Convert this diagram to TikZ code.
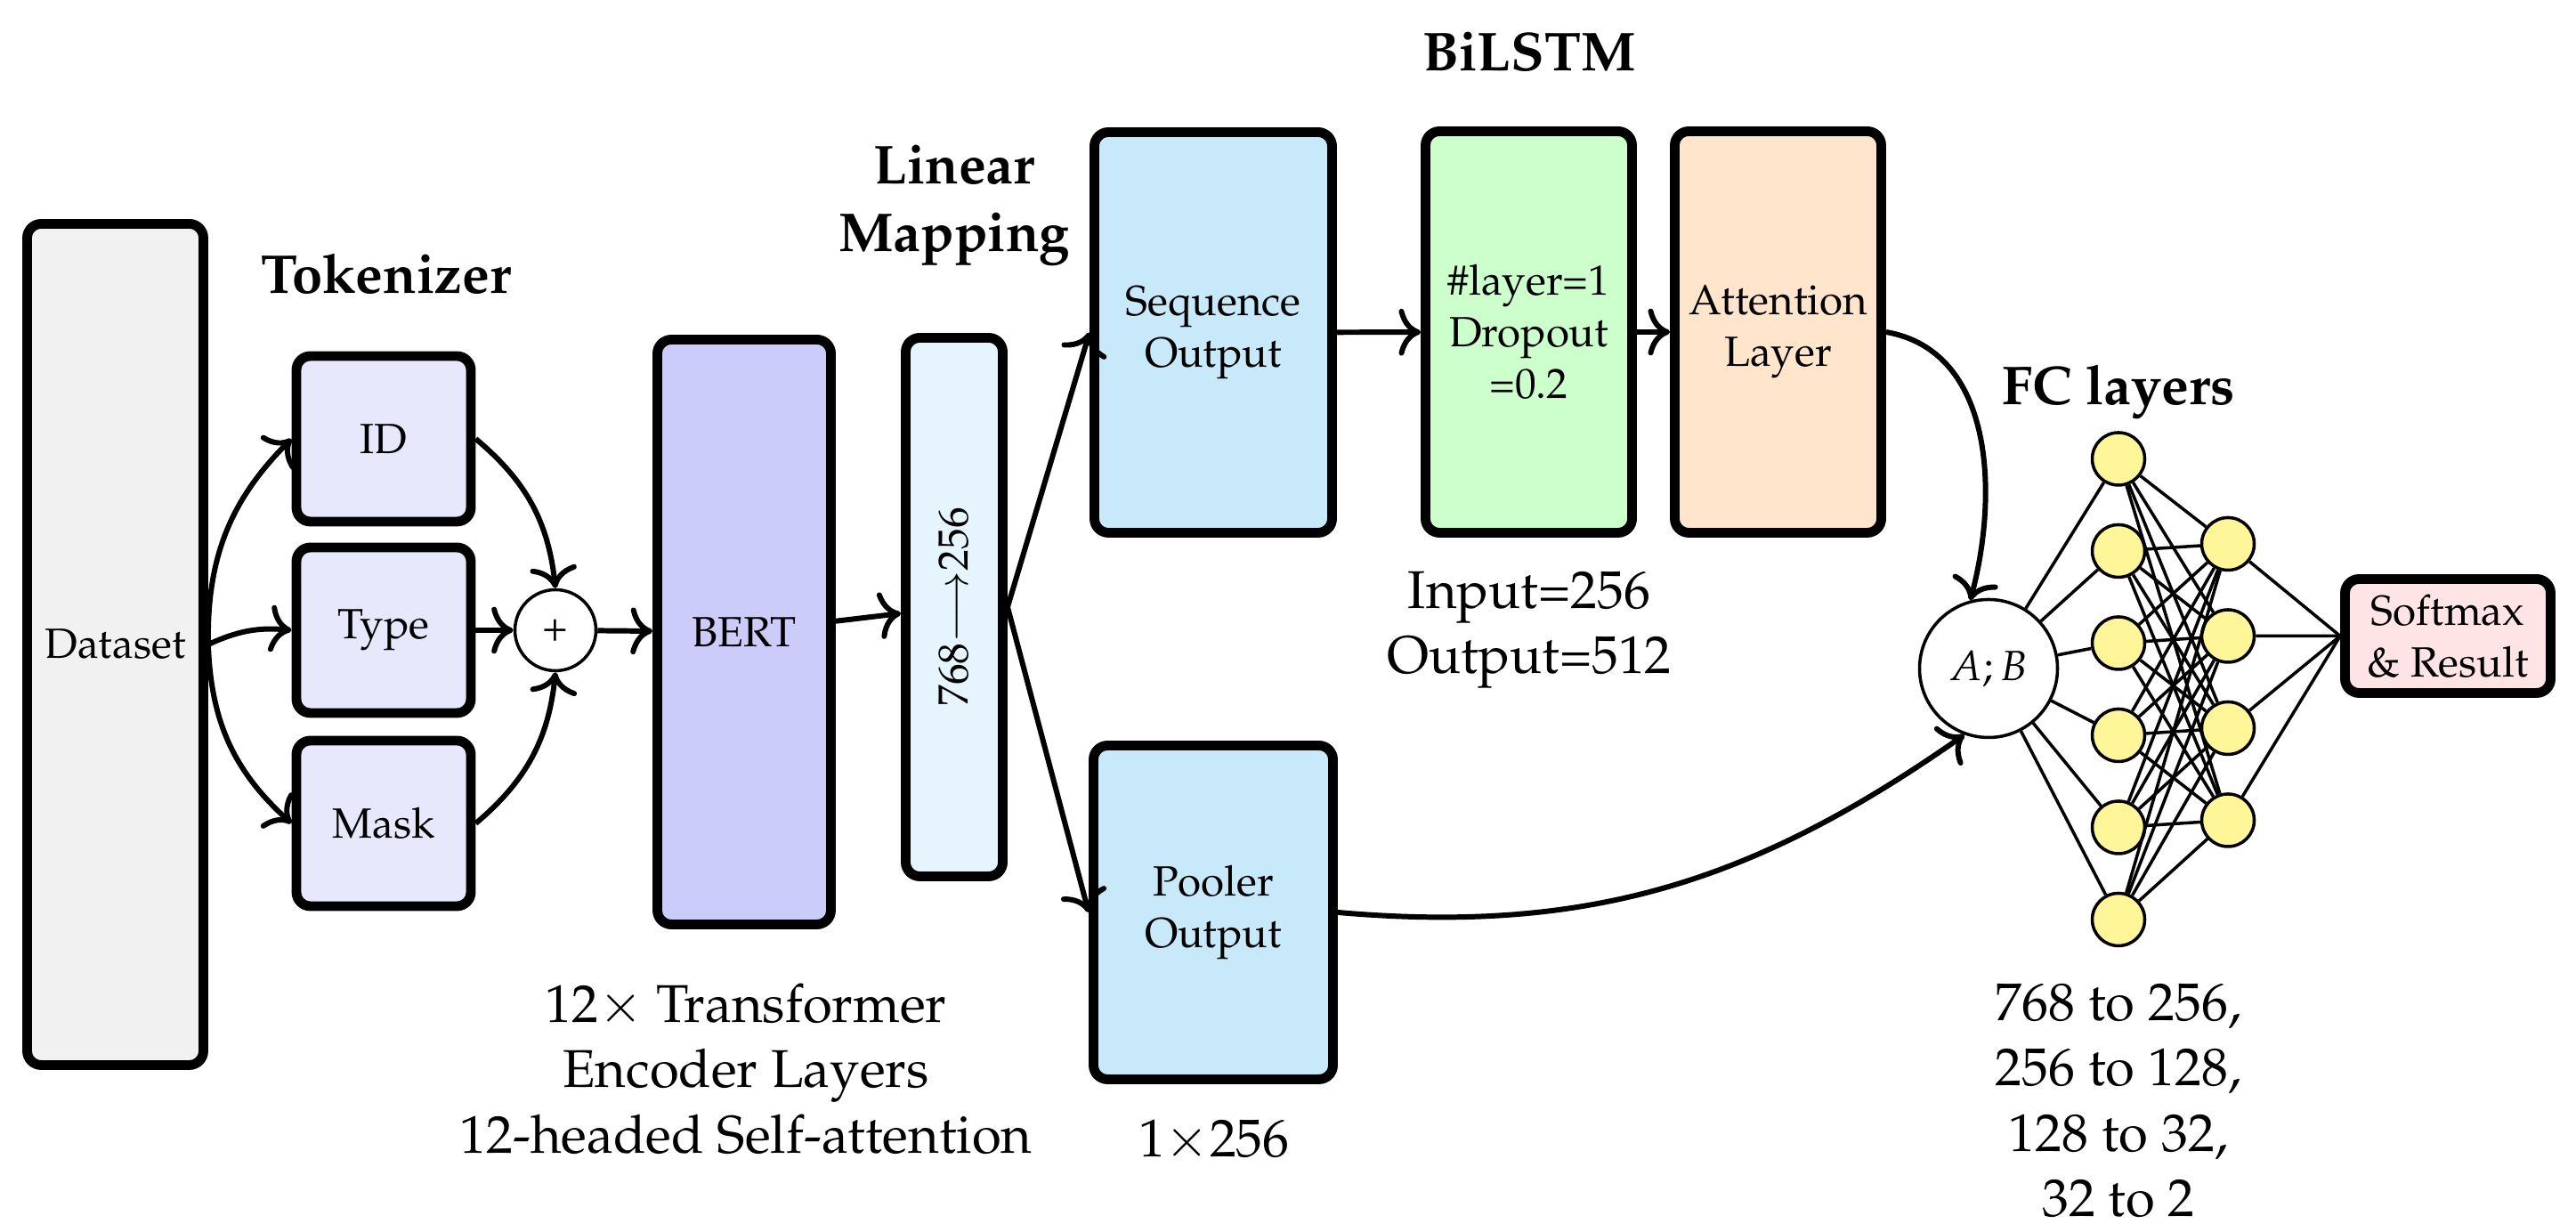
\documentclass[tikz,border=0pt]{standalone}
\usepackage[T1]{fontenc}
\usepackage{mathpazo}
\usetikzlibrary{arrows.meta}

\definecolor{datagray}{RGB}{241,241,241}
\definecolor{tokblue}{RGB}{232,232,252}
\definecolor{bertblue}{RGB}{204,204,250}
\definecolor{linblue}{RGB}{230,245,253}
\definecolor{outblue}{RGB}{199,233,250}
\definecolor{lstmgreen}{RGB}{204,255,204}
\definecolor{attorange}{RGB}{255,229,204}
\definecolor{softpink}{RGB}{255,228,230}
\definecolor{nyellow}{RGB}{255,246,153}

\begin{document}
\begin{tikzpicture}[
    box/.style={draw, line width=3.1pt, rounded corners=4.5pt, align=center, font=\fontsize{13.5}{16.5}\selectfont},
    arrow/.style={line width=1.7pt, -{Computer Modern Rightarrow[length=7pt, width=15pt]}},
    title/.style={font=\fontsize{17.5}{21.5}\selectfont\bfseries, align=center},
    note/.style={font=\fontsize{17}{20.8}\selectfont, align=center},
    neuron/.style={circle, draw, line width=1pt, fill=nyellow, minimum size=0.59cm, inner sep=0pt},
    link/.style={line width=1pt}
]
\useasboundingbox (0,0) rectangle (28.94,13.84);

% Titles
\node[title, anchor=base] (ttok) at (4.34, 10.54) {Tokenizer};
\node[title] (tlin) at (10.72, 11.53) {Linear\\Mapping};
\node[title, anchor=base] (tlstm) at (17.18, 13.04) {BiLSTM};
\node[title, anchor=base] (tfc) at (23.80, 9.29) {FC layers};

% Boxes
\node[box, fill=datagray, minimum width=1.98cm, minimum height=9.45cm] (data) at (1.295, 6.60) {Dataset};
\node[box, fill=tokblue, minimum width=1.96cm, minimum height=1.86cm] (id) at (4.31, 8.91) {ID};
\node[box, fill=tokblue, minimum width=1.96cm, minimum height=1.86cm] (type) at (4.31, 6.76) {Type};
\node[box, fill=tokblue, minimum width=1.96cm, minimum height=1.86cm] (mask) at (4.31, 4.59) {Mask};
\node[circle, draw, line width=1pt, minimum size=0.91cm, inner sep=0pt, font=\fontsize{13.5}{16.5}\selectfont] (plus) at (6.24, 6.76) {+};
\node[box, fill=bertblue, minimum width=1.95cm, minimum height=6.57cm] (bert) at (8.36, 6.74) {BERT};
\node[box, fill=linblue, minimum width=1.09cm, minimum height=6.05cm] (lin) at (10.72, 7.02) {\rotatebox{90}{$768{\longrightarrow}256$}};
\node[box, fill=outblue, minimum width=2.67cm, minimum height=4.50cm] (seq) at (13.63, 10.105) {Sequence\\Output};
\node[box, fill=outblue, minimum width=2.69cm, minimum height=3.75cm] (pool) at (13.63, 3.59) {Pooler\\Output};
\node[box, fill=lstmgreen, minimum width=2.32cm, minimum height=4.51cm] (lstm) at (17.175, 10.11) {\#layer=1\\Dropout\\=0.2};
\node[box, fill=attorange, minimum width=2.32cm, minimum height=4.51cm] (att) at (19.975, 10.11) {Attention\\Layer};
\node[circle, draw, line width=1pt, minimum size=1.55cm, inner sep=0pt, font=\fontsize{13.5}{16.5}\selectfont] (ab) at (22.34, 6.33) {$A;B$};
\node[box, fill=softpink, minimum width=2.31cm, minimum height=1.28cm] (soft) at (27.50, 6.695) {Softmax\\\& Result};

% Notes
\node[note] (nbert) at (8.38, 1.83) {$12\times$ Transformer\\Encoder Layers\\12-headed Self-attention};
\node[note, anchor=base] (npool) at (13.64, 0.84) {$1{\times}256$};
\node[note] (nlstm) at (17.18, 6.76) {Input=256\\Output=512};
\node[note] (nfc) at (23.80, 1.475) {768 to 256,\\256 to 128,\\128 to 32,\\32 to 2};

% Arrows
\draw[arrow] (data.east) to[bend left=23] (id.west);
\draw[arrow] (data.east) to[bend left=15] (type.west);
\draw[arrow] (data.east) to[bend right=23] (mask.west);
\draw[arrow] (id.east) to[bend left=22] (plus.north);
\draw[arrow] (type) -- (plus);
\draw[arrow] (mask.east) to[bend right=22] (plus.south);
\draw[arrow] (plus) -- (bert);
\draw[arrow] (bert) -- (lin);
\draw[arrow] (lin.east) -- (seq.west);
\draw[arrow] (lin.east) -- (pool.west);
\draw[arrow] (seq) -- (lstm);
\draw[arrow] (lstm) -- (att);
\draw[arrow] (att.east) to[out=-10, in=75] (ab.105);
\draw[arrow] (pool.east) to[out=-5, in=215] (ab.250);

% FC layers
\foreach \i in {1,...,6}
    \node[neuron] (h\i) at (23.80, 9.72-1.035*\i) {};
\foreach \j in {1,...,4}
    \node[neuron] (o\j) at (25.03, 8.765-1.035*\j) {};
\foreach \i in {1,...,6} {
    \draw[link] (ab) -- (h\i);
    \foreach \j in {1,...,4}
        \draw[link] (h\i) -- (o\j);
}
\foreach \j in {1,...,4}
    \draw[link] (o\j) -- (soft.west);

\end{tikzpicture}
\end{document}
